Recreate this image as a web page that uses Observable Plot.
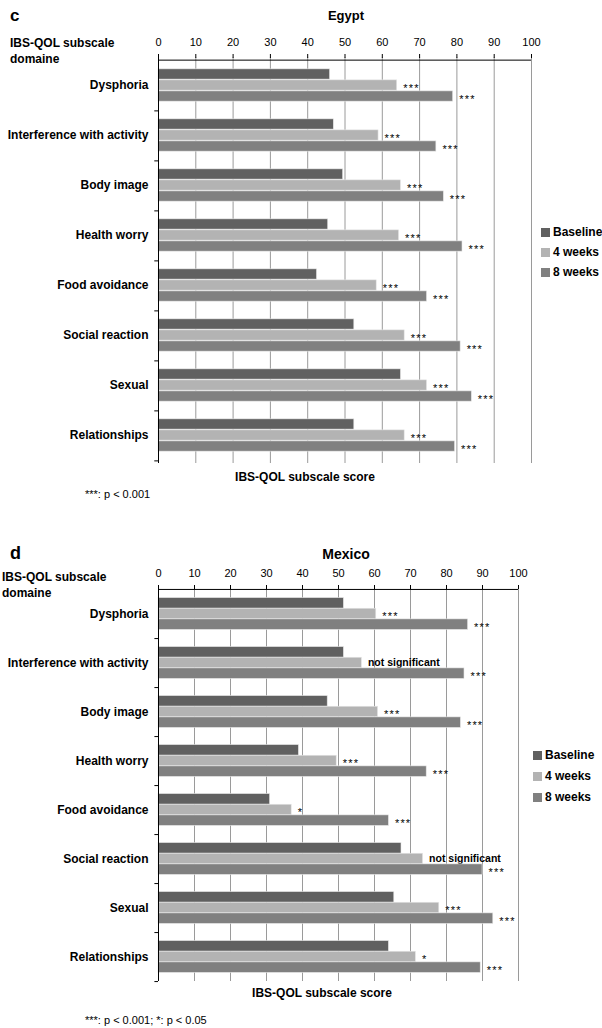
<!DOCTYPE html>
<html>
<head>
<meta charset="utf-8">
<script src="https://cdn.jsdelivr.net/npm/d3@7"></script>
<script src="https://cdn.jsdelivr.net/npm/@observablehq/plot@0.6"></script>
<style>
  html, body { margin: 0; padding: 0; background: #fff; }
  #root { position: relative; width: 602px; height: 1028px; font-family: "Liberation Sans", Arial, sans-serif; color: #000; }
  .t { position: absolute; white-space: nowrap; line-height: 1; }
  svg { position: absolute; left: 0; }
  .stars text { letter-spacing: 1.2px; }
</style>
</head>
<body>
<div id="root"></div>
<script>
// ---------- data ----------
const categories = ["Dysphoria", "Interference with activity", "Body image", "Health worry", "Food avoidance", "Social reaction", "Sexual", "Relationships"];
const seriesNames = ["Baseline", "4 weeks", "8 weeks"];
const seriesColors = ["#606060", "#b3b3b3", "#808080"];
const xTicks = [0, 10, 20, 30, 40, 50, 60, 70, 80, 90, 100];

const egyptBaseline = [46, 47, 49.5, 45.5, 42.5, 52.5, 65, 52.5];
const egypt4w = [64, 59, 65, 64.5, 58.5, 66, 72, 66];
const egypt8w = [79, 74.5, 76.5, 81.5, 72, 81, 84, 79.5];
const egyptSig4w = ["***", "***", "***", "***", "***", "***", "***", "***"];
const egyptSig8w = ["***", "***", "***", "***", "***", "***", "***", "***"];

const mexicoBaseline = [51.5, 51.5, 47, 39, 31, 67.5, 65.5, 64];
const mexico4w = [60.5, 56.5, 61, 49.5, 37, 73.5, 78, 71.5];
const mexico8w = [86, 85, 84, 74.5, 64, 90, 93, 89.5];
const mexicoSig4w = ["***", "not significant", "***", "***", "*", "not significant", "***", "*"];
const mexicoSig8w = ["***", "***", "***", "***", "***", "***", "***", "***"];

const axisTitleText = "IBS-QOL subscale score";
const domainTitleLines = ["IBS-QOL subscale", "domaine"];
const notSig = "not significant";

// ---------- helpers ----------
const root = document.getElementById("root");
function addText(text, x, y, style = {}, anchor = "start") {
  const d = document.createElement("div");
  d.className = "t";
  d.textContent = text;
  d.style.left = x + "px";
  d.style.top = y + "px";
  const tx = anchor === "middle" ? "-50%" : anchor === "end" ? "-100%" : "0";
  d.style.transform = `translate(${tx}, -50%)`;
  Object.assign(d.style, style);
  root.appendChild(d);
  return d;
}
function addLegend(x, ys) {
  seriesNames.forEach((name, i) => {
    const sq = document.createElement("div");
    sq.style.cssText = `position:absolute;left:${x}px;top:${ys[i] - 4.5}px;width:9px;height:9px;background:${seriesColors[i]};`;
    root.appendChild(sq);
    addText(name, x + 12, ys[i], {fontWeight: "bold", fontSize: "12px"});
  });
}

function makeChart({base, w4, w8, sig4, sig8, top, frameTop, frameBottom, marginLeft, marginRight}) {
  const values = [base, w4, w8];
  const sigs = [null, sig4, sig8];
  const marginTop = frameTop - top;
  const marginBottom = 3;
  const height = frameBottom - top + marginBottom;
  const step = (frameBottom - frameTop) / categories.length;
  const barH = step * 0.217;
  const gap = (step - 3 * barH) / 2;

  const marks = [
    Plot.ruleX(xTicks.slice(1), {stroke: "#9a9a9a", strokeWidth: 1})
  ];
  seriesNames.forEach((s, i) => {
    const rows = categories.map((c, j) => ({category: c, series: s, value: values[i][j], sig: sigs[i] ? sigs[i][j] : ""}));
    const insetTop = gap + i * barH;
    const insetBottom = step - insetTop - barH;
    marks.push(Plot.barX(rows, {
      x: "value", y: "category", fill: seriesColors[i],
      stroke: "#e6e6e6", strokeWidth: 0.6,
      insetTop, insetBottom
    }));
    if (sigs[i]) {
      const dy = insetTop + barH / 2 - step / 2;
      marks.push(Plot.text(rows.filter(d => d.sig !== notSig), {
        x: "value", y: "category", text: "sig", dx: 6, dy: dy + 2.5,
        textAnchor: "start", fontSize: 11, fill: "#000", className: "stars"
      }));
      marks.push(Plot.text(rows.filter(d => d.sig === notSig), {
        x: "value", y: "category", text: "sig", dx: 6, dy: dy,
        textAnchor: "start", fontSize: 10.5, fontWeight: "bold", fill: "#000"
      }));
    }
  });
  marks.push(
    Plot.ruleX([0], {stroke: "#000", strokeWidth: 1}),
    Plot.ruleY([categories[0]], {y: d => d, x1: 0, x2: 100, dy: -step / 2, stroke: "#000", strokeWidth: 1}),
    Plot.ruleY(categories, {y: d => d, x1: -1, x2: 0, dy: step / 2, stroke: "#000", strokeWidth: 1}),
    Plot.axisX({anchor: "top", ticks: xTicks, tickSize: 4, tickPadding: 8, label: null, fontSize: 11}),
    Plot.axisY({anchor: "left", tickSize: 0, tickPadding: 10, label: null, fontSize: 12, fontWeight: "bold"})
  );
  const svg = Plot.plot({
    width: 602, height, marginTop, marginBottom, marginLeft, marginRight,
    style: {fontFamily: "'Liberation Sans', Arial, sans-serif", background: "transparent", color: "#000", overflow: "visible"},
    x: {domain: [0, 100]},
    y: {domain: categories, padding: 0},
    marks
  });
  svg.style.top = top + "px";
  root.appendChild(svg);
}

// ---------- Egypt (c) ----------
makeChart({base: egyptBaseline, w4: egypt4w, w8: egypt8w, sig4: egyptSig4w, sig8: egyptSig8w,
  top: 0, frameTop: 57, frameBottom: 463, marginLeft: 158, marginRight: 71});
addText("c", 10, 15, {fontWeight: "bold", fontSize: "17px"});
addText("Egypt", 346, 15, {fontWeight: "bold", fontSize: "13px"}, "middle");
addText(domainTitleLines[0], 10, 43, {fontWeight: "bold", fontSize: "12px"});
addText(domainTitleLines[1], 10, 59, {fontWeight: "bold", fontSize: "12px"});
addText(axisTitleText, 305, 477, {fontWeight: "bold", fontSize: "12px"}, "middle");
addText("***:  p < 0.001", 85, 494, {fontSize: "11px"});
addLegend(541, [232, 252, 272]);

// ---------- Mexico (d) ----------
makeChart({base: mexicoBaseline, w4: mexico4w, w8: mexico8w, sig4: mexicoSig4w, sig8: mexicoSig8w,
  top: 520, frameTop: 588, frameBottom: 981, marginLeft: 158, marginRight: 84});
addText("d", 10, 553, {fontWeight: "bold", fontSize: "18px"});
addText("Mexico", 346, 554, {fontWeight: "bold", fontSize: "14px"}, "middle");
addText(domainTitleLines[0], 2, 577, {fontWeight: "bold", fontSize: "12px"});
addText(domainTitleLines[1], 2, 593, {fontWeight: "bold", fontSize: "12px"});
addText(axisTitleText, 322, 993, {fontWeight: "bold", fontSize: "12px"}, "middle");
addText("***:  p < 0.001;  *: p < 0.05", 85, 1020, {fontSize: "11px"});
addLegend(533, [755, 776, 797]);
</script>
</body>
</html>
